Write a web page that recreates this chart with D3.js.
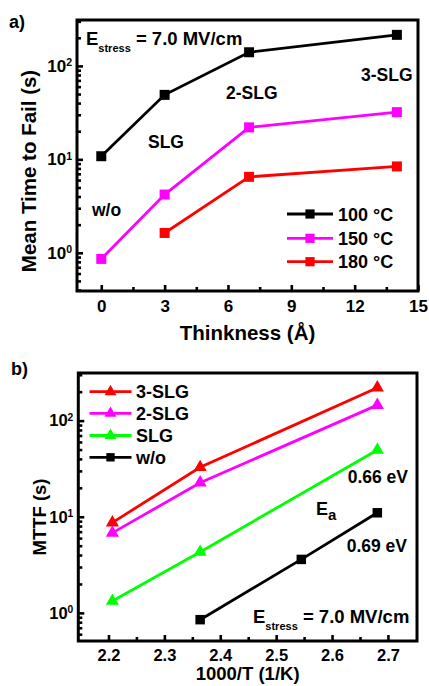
<!DOCTYPE html>
<html>
<head>
<meta charset="utf-8">
<script src="https://cdn.jsdelivr.net/npm/d3@7"></script>
<style>
  body { margin: 0; background: #fff; }
  svg text { font-family: "Liberation Sans", Arial, sans-serif; font-weight: bold; fill: #000; }
</style>
</head>
<body>
<svg id="chart" width="429" height="686"></svg>
<script>
// ---- panel a: MTTF vs thickness ----
var thickness = [0, 3, 7, 14];
var thickness180 = [3, 7, 14];
var mttf100C = [10.8, 49, 140, 215];
var mttf150C = [0.86, 4.2, 22, 32];
var mttf180C = [1.63, 6.5, 8.4];
var thickTicks = [0, 3, 6, 9, 12, 15];
var thickMinor = [1.5, 4.5, 7.5, 10.5, 13.5];
var tempLabels = ["100 °C", "150 °C", "180 °C"];

// ---- panel b: MTTF vs 1000/T ----
var invT = [2.207, 2.364, 2.681];
var invTwo = [2.364, 2.545, 2.681];
var mttf3SLG = [8.7, 32.7, 220];
var mttf2SLG = [6.8, 22.6, 145];
var mttfSLG = [1.33, 4.3, 49.5];
var mttfWo = [0.85, 3.6, 11];
var invTTicks = [2.2, 2.3, 2.4, 2.5, 2.6, 2.7];
var invTMinor = [2.25, 2.35, 2.45, 2.55, 2.65];
var layerLabels = ["3-SLG", "2-SLG", "SLG", "w/o"];

var logMajor = [1, 10, 100];

var BLACK = "#000000", MAGENTA = "#ff00ff", RED = "#ff0000", GREEN = "#00ff00";

var svg = d3.select("#chart");

function logLabel(sel) {
    sel.each(function (d) {
        var t = d3.select(this);
        var e = Math.round(Math.log10(d));
        t.text("10");
        t.append("tspan").attr("dy", "-0.55em").attr("font-size", "0.62em").text(e);
    });
}

function drawPanel(cfg) {
    var x = d3.scaleLinear().domain(cfg.xDomain).range([cfg.left, cfg.right]);
    var y = d3.scaleLog().domain(cfg.yDomain).range([cfg.bottom, cfg.top]);
    var g = svg.append("g");

    // minor ticks
    var xMinorAxis = g.append("g")
        .attr("transform", "translate(0," + cfg.bottom + ")")
        .call(d3.axisBottom(x).tickValues(cfg.xMinor).tickSize(-4).tickFormat(""));
    var yMinor = y.ticks().filter(function (v) { return logMajor.indexOf(v) < 0; });
    var yMinorAxis = g.append("g")
        .attr("transform", "translate(" + cfg.left + ",0)")
        .call(d3.axisLeft(y).tickValues(yMinor).tickSize(-4).tickFormat(""));

    // major ticks
    var xAxis = g.append("g")
        .attr("transform", "translate(0," + cfg.bottom + ")")
        .call(d3.axisBottom(x).tickValues(cfg.xTicks).tickSize(-6).tickPadding(cfg.xPad)
            .tickFormat(cfg.xFormat));
    var yAxis = g.append("g")
        .attr("transform", "translate(" + cfg.left + ",0)")
        .call(d3.axisLeft(y).tickValues(logMajor).tickSize(-6).tickPadding(5));

    [xMinorAxis, yMinorAxis, xAxis, yAxis].forEach(function (a) {
        a.select(".domain").remove();
        a.selectAll("line").attr("stroke", "#000").attr("stroke-width", 2.6);
    });
    xAxis.selectAll("text").attr("font-size", cfg.tickFont).attr("fill", "#000");
    yAxis.selectAll("text").attr("font-size", cfg.tickFont).attr("fill", "#000").call(logLabel);

    // frame
    g.append("rect")
        .attr("x", cfg.left).attr("y", cfg.top)
        .attr("width", cfg.right - cfg.left).attr("height", cfg.bottom - cfg.top)
        .attr("fill", "none").attr("stroke", "#000").attr("stroke-width", 3);

    var line = d3.line()
        .x(function (d) { return x(d[0]); })
        .y(function (d) { return y(d[1]); });

    cfg.series.forEach(function (s) {
        var pts = d3.zip(s.xs, s.ys);
        g.append("path").datum(pts)
            .attr("d", line).attr("fill", "none")
            .attr("stroke", s.color).attr("stroke-width", 2.8);
        g.selectAll(null).data(pts).enter().append("path")
            .attr("d", d3.symbol().type(s.symbol).size(s.size))
            .attr("transform", function (d) { return "translate(" + x(d[0]) + "," + y(d[1]) + ")"; })
            .attr("fill", s.color);
    });

    // legend
    cfg.series.forEach(function (s, i) {
        var ly = cfg.legend.y[i];
        g.append("line")
            .attr("x1", cfg.legend.x1).attr("x2", cfg.legend.x2)
            .attr("y1", ly).attr("y2", ly)
            .attr("stroke", s.color).attr("stroke-width", 2.8);
        g.append("path")
            .attr("d", d3.symbol().type(s.symbol).size(s.legendSize))
            .attr("transform", "translate(" + ((cfg.legend.x1 + cfg.legend.x2) / 2) + "," + ly + ")")
            .attr("fill", s.color);
        g.append("text")
            .attr("x", cfg.legend.tx).attr("y", ly + 6.5)
            .attr("font-size", cfg.legend.font)
            .text(s.label);
    });

    // axis titles
    g.append("text")
        .attr("x", (cfg.left + cfg.right) / 2).attr("y", cfg.xTitleY)
        .attr("text-anchor", "middle").attr("font-size", cfg.titleFont)
        .text(cfg.xTitle);
    g.append("text")
        .attr("transform", "translate(" + cfg.yTitleX + "," + cfg.yTitleMid + ") rotate(-90)")
        .attr("text-anchor", "middle").attr("font-size", cfg.titleFont)
        .text(cfg.yTitle);

    return g;
}

function stressLabel(g, x0, yb) {
    var t = g.append("text").attr("x", x0).attr("y", yb).attr("font-size", 18.5);
    t.append("tspan").text("E");
    t.append("tspan").attr("font-size", 11).attr("dy", 7).text("stress");
    t.append("tspan").attr("dy", -7).text(" = 7.0 MV/cm");
}

// ---- panel a ----
var ga = drawPanel({
    left: 77, right: 418, top: 20, bottom: 291,
    xDomain: [-1.15, 15], yDomain: [0.39, 310],
    xTicks: thickTicks, xMinor: thickMinor, xFormat: d3.format("d"), xPad: 9,
    tickFont: 17, titleFont: 20.5,
    xTitle: "Thinkness (Å)", xTitleY: 340,
    yTitle: "Mean Time to Fail (s)", yTitleX: 36, yTitleMid: 171,
    series: [
        { xs: thickness, ys: mttf100C, color: BLACK, symbol: d3.symbolSquare, size: 100, legendSize: 85, label: tempLabels[0] },
        { xs: thickness, ys: mttf150C, color: MAGENTA, symbol: d3.symbolSquare, size: 100, legendSize: 85, label: tempLabels[1] },
        { xs: thickness180, ys: mttf180C, color: RED, symbol: d3.symbolSquare, size: 100, legendSize: 85, label: tempLabels[2] }
    ],
    legend: { x1: 287, x2: 333, tx: 338, y: [214, 238.3, 261.7], font: 18 }
});
stressLabel(ga, 86, 45);
ga.append("text").attr("x", 92).attr("y", 216).attr("font-size", 17.5).text("w/o");
ga.append("text").attr("x", 148).attr("y", 148).attr("font-size", 17.5).text("SLG");
ga.append("text").attr("x", 226).attr("y", 99).attr("font-size", 17.5).text("2-SLG");
ga.append("text").attr("x", 361).attr("y", 81).attr("font-size", 17.5).text("3-SLG");
ga.append("text").attr("x", 9).attr("y", 28).attr("font-size", 18).text("a)");

// ---- panel b ----
var gb = drawPanel({
    left: 78.3, right: 417, top: 373, bottom: 641,
    xDomain: [2.146, 2.752], yDomain: [0.51, 313],
    xTicks: invTTicks, xMinor: invTMinor, xFormat: d3.format(".1f"), xPad: 8,
    tickFont: 16.5, titleFont: 18.5,
    xTitle: "1000/T (1/K)", xTitleY: 680,
    yTitle: "MTTF (s)", yTitleX: 46, yTitleMid: 517,
    series: [
        { xs: invT, ys: mttf3SLG, color: RED, symbol: d3.symbolTriangle, size: 75, legendSize: 62, label: layerLabels[0] },
        { xs: invT, ys: mttf2SLG, color: MAGENTA, symbol: d3.symbolTriangle, size: 75, legendSize: 62, label: layerLabels[1] },
        { xs: invT, ys: mttfSLG, color: GREEN, symbol: d3.symbolTriangle, size: 75, legendSize: 62, label: layerLabels[2] },
        { xs: invTwo, ys: mttfWo, color: BLACK, symbol: d3.symbolSquare, size: 90, legendSize: 70, label: layerLabels[3] }
    ],
    legend: { x1: 89.5, x2: 131.5, tx: 136, y: [391.7, 413.3, 435.5, 457.3], font: 18 }
});
stressLabel(gb, 253, 623);
gb.append("text").attr("x", 408).attr("y", 483).attr("text-anchor", "end").attr("font-size", 17.5).text("0.66 eV");
gb.append("text").attr("x", 407).attr("y", 552).attr("text-anchor", "end").attr("font-size", 17.5).text("0.69 eV");
var ea = gb.append("text").attr("x", 316).attr("y", 515).attr("font-size", 18);
ea.append("tspan").text("E");
ea.append("tspan").attr("font-size", 15).attr("dy", 5).text("a");
gb.append("text").attr("x", 11).attr("y", 375).attr("font-size", 18).text("b)");
</script>
</body>
</html>
